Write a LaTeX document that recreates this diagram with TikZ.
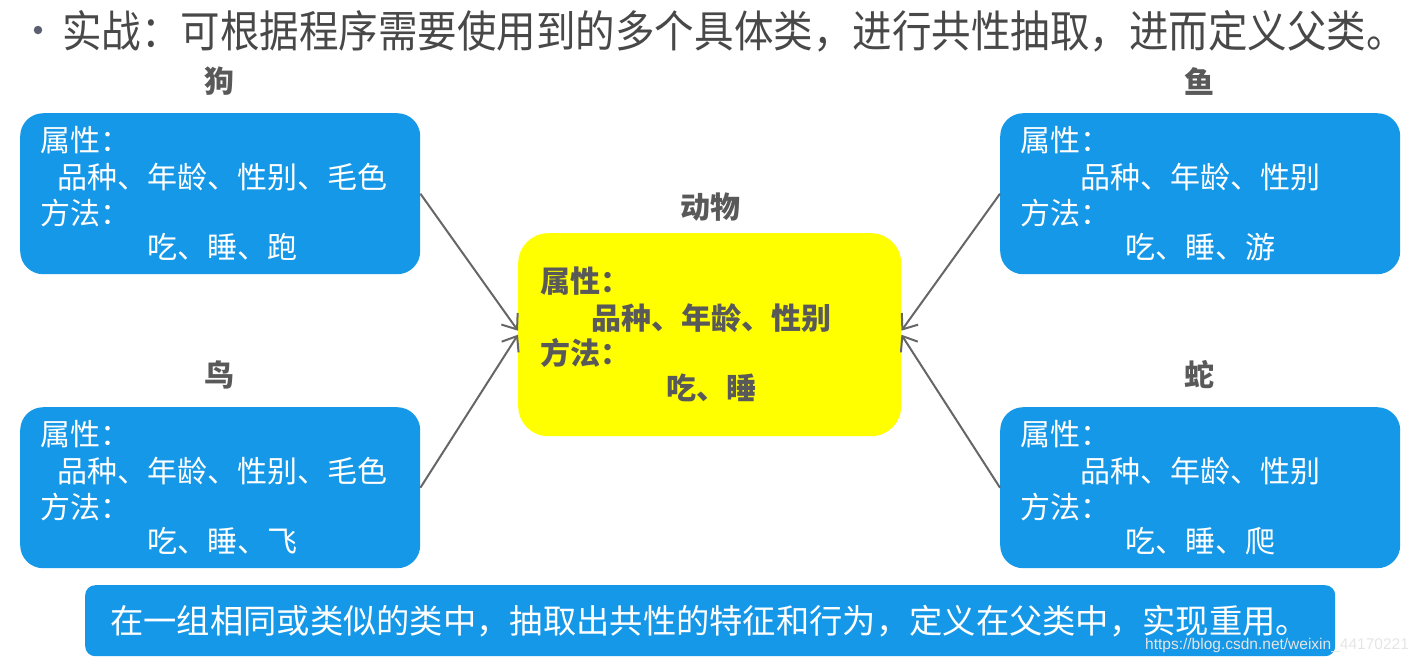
\documentclass[tikz,border=0pt]{standalone}
\usepackage{fontspec}
\newfontfamily\cjk{Noto Sans CJK SC}
\setsansfont{Liberation Sans}
\usetikzlibrary{arrows.meta}

\definecolor{boxblue}{HTML}{1598E8}
\definecolor{baseyellow}{RGB}{255,255,0}
\definecolor{namegray}{HTML}{595959}
\definecolor{titlegray}{HTML}{484848}
\definecolor{dotgray}{HTML}{5A6070}
\definecolor{linegray}{HTML}{666666}

\tikzset{
    classbox/.style={fill=boxblue, rounded corners=23pt, minimum width=400pt,
        minimum height=161pt, inner sep=0pt, anchor=north west},
    boxtext/.style={font=\cjk\fontsize{30}{30}\selectfont, text=white,
        anchor=west, inner sep=0pt},
    classname/.style={font=\cjk\bfseries\fontsize{30}{30}\selectfont,
        text=namegray, inner sep=0pt},
    basetext/.style={boxtext, font=\cjk\bfseries\fontsize{30}{30}\selectfont,
        text=namegray},
    inherit/.style={draw=linegray, line width=2pt,
        -{Straight Barb[length=13pt, width=20pt]}},
}

\begin{document}
\begin{tikzpicture}[x=1pt, y=-1pt]

        \useasboundingbox (0,0) rectangle (1424,665);

        % heading
        \node[circle, fill=dotgray, minimum size=8.5pt, inner sep=0pt] (bullet) at (38,30) {};
        \node[font=\cjk\fontsize{38}{40}\selectfont, text=titlegray, anchor=west, inner sep=0pt]
            (heading) at (62,31) {\scalebox{1.04}[1.15]{实战：可根据程序需要使用到的多个具体类，进行共性抽取，进而定义父类。}};

        % the four concrete classes
        \foreach \nm/\lab/\x/\y/\attr/\ax/\meth/\mx in {
                dog/狗/20/113/品种、年龄、性别、毛色/57/吃、睡、跑/147,
                bird/鸟/20/407/品种、年龄、性别、毛色/57/吃、睡、飞/147,
                fish/鱼/1000/113/品种、年龄、性别/1080/吃、睡、游/1125,
                snake/蛇/1000/407/品种、年龄、性别/1080/吃、睡、爬/1125}
        {
            \node[classbox] (\nm) at (\x,\y) {};
            \node[classname] (\nm-name) at ({\x+199},{\y-32}) {\lab};
            \node[boxtext] (\nm-attr) at ({\x+20},{\y+27}) {属性：};
            \node[boxtext] (\nm-attrs) at (\ax,{\y+64}) {\attr};
            \node[boxtext] (\nm-meth) at ({\x+20},{\y+100}) {方法：};
            \node[boxtext] (\nm-meths) at (\mx,{\y+134}) {\meth};
        }

        % the parent class
        \node[fill=baseyellow, rounded corners=30pt, minimum width=383pt, minimum height=203pt,
            inner sep=0pt, anchor=north west] (animal) at (518,233) {};
        \node[classname] (animal-name) at (710,207) {动物};
        \node[basetext] (animal-attr) at (540,281) {属性：};
        \node[basetext] (animal-attrs) at (591,318) {品种、年龄、性别};
        \node[basetext] (animal-meth) at (540,353) {方法：};
        \node[basetext] (animal-meths) at (666,388) {吃、睡};

        \draw[inherit] (dog.east) -- ([yshift=4pt]animal.west);
        \draw[inherit] (bird.east) -- (animal.west);
        \draw[inherit] (fish.west) -- ([yshift=4pt]animal.east);
        \draw[inherit] (snake.west) -- (animal.east);

        % summary bar
        \node[fill=boxblue, rounded corners=10pt, minimum width=1250pt, minimum height=71pt,
            inner sep=0pt, anchor=north west] (summary) at (85,585) {};
        \node[boxtext, font=\cjk\fontsize{33.3}{34}\selectfont] (summary-text) at (110,621)
            {在一组相同或类似的类中，抽取出共性的特征和行为，定义在父类中，实现重用。};

        \node[font=\sffamily\fontsize{15.5}{16}\selectfont, text=white!80!gray, anchor=west, inner sep=0pt]
            (mark) at (1145,645) {https://blog.csdn.net/weixin\_44170221};

\end{tikzpicture}
\end{document}
